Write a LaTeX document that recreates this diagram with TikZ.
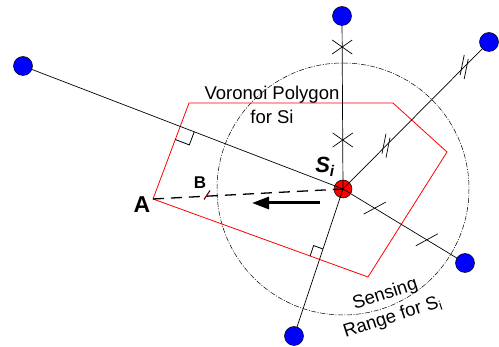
\documentclass[tikz,border=0pt]{standalone}
\usepackage{fontspec}
\setmainfont{Liberation Sans}
\usetikzlibrary{calc,arrows.meta}
\tikzset{
  bluenode/.style={circle,draw=black,fill=blue,line width=0.5pt,minimum size=19pt,inner sep=0pt},
  sinode/.style={circle,draw=black,fill=red,line width=0.5pt,minimum size=18pt,inner sep=0pt},
  link/.style={draw=black,line width=0.7pt},
  vor/.style={draw=red,line width=0.8pt},
  sense/.style={draw=black,line width=0.5pt,dash pattern=on 5pt off 1.5pt on 1pt off 1.5pt},
  tick/.style={draw=black,line width=0.7pt},
  ramark/.style={draw=black,line width=0.8pt},
  lbl/.style={font=\fontsize{18.5}{24}\selectfont,align=center,inner sep=0pt}
}
\begin{document}
\begin{tikzpicture}[x=1pt,y=-1pt]
\useasboundingbox (0,0) rectangle (499,347);
% coordinates
\coordinate (si) at (343,189);
\coordinate (c1) at (342,16);
\coordinate (c2) at (489,42);
\coordinate (c3) at (23,66);
\coordinate (c4) at (465,263);
\coordinate (c5) at (294,336);
\coordinate (v1) at (189,103);
\coordinate (v2) at (393,103);
\coordinate (v3) at (447,152);
\coordinate (v4) at (368,277);
\coordinate (A) at (153,199);
% sensing range
\draw[sense] (si) circle (126);
% voronoi polygon
\draw[vor] (v1) -- (v2) -- (v3) -- (v4) -- (A) -- cycle;
% Si node
\node[sinode] (s) at (si) {};
% links
\draw[link] (si) -- (c1);
\draw[link] (si) -- (c2);
\draw[link] (si) -- (c3);
\draw[link] (si) -- (c4);
\draw[link] (si) -- (c5);
% dashed line A to Si
\draw[black,line width=1.3pt,dash pattern=on 11pt off 7pt] (A) -- (si);
% B tick
\draw[draw={rgb,255:red,128;green,0;blue,0},line width=1.2pt] (204,199.5) -- (210,190.5);
% right angle markers
\coordinate (p1) at (intersection of c3--si and v1--A);
\coordinate (q1) at ($(p1)!15pt!(si)$);
\coordinate (q2) at ($(p1)!14pt!(A)$);
\draw[ramark] (q1) -- ($(q1)+(q2)-(p1)$) -- (q2);
\coordinate (p2) at (intersection of c5--si and v4--A);
\coordinate (r1) at ($(p2)!11pt!(si)$);
\coordinate (r2) at ($(p2)!10pt!(A)$);
\draw[ramark] (r1) -- ($(r1)+(r2)-(p2)$) -- (r2);
% crosses on top link
\foreach \d in {49,142}{
  \draw[tick] ($(si)!\d pt!(c1)$) ++(-10,-7) -- ++(20,14);
  \draw[tick] ($(si)!\d pt!(c1)$) ++(-10,7) -- ++(20,-14);
}
% double ticks on upper-right link
\foreach \d in {61,172}{
  \draw[tick] ($(si)!\d pt!(c2)$) ++(-2,-2) ++(-2,10) -- ++(4,-20);
  \draw[tick] ($(si)!\d pt!(c2)$) ++(2,2) ++(-2,10) -- ++(4,-20);
}
% single ticks on lower-right link
\foreach \d in {37,98}{
  \draw[tick] ($(si)!\d pt!(c4)$) ++(-11,6) -- ++(22,-12);
}
% blue nodes
\node[bluenode] (n1) at (c1) {};
\node[bluenode] (n2) at (c2) {};
\node[bluenode] (n3) at (c3) {};
\node[bluenode] (n4) at (c4) {};
\node[bluenode] (n5) at (c5) {};
% arrow
\coordinate (ar1) at (320,203);
\coordinate (ar2) at (252,203);
\draw[line width=3pt,-{Triangle[length=17pt,width=12pt]}] (ar1) -- (ar2);
% labels
\node[lbl] (tv) at (272,104.5) {Voronoi Polygon\\for Si};
\node[lbl,rotate=18] (ts) at (389,306) {Sensing\\Range for S\textsubscript{i}};
\node[inner sep=0pt,font=\fontsize{22}{24}\selectfont\bfseries\itshape] (tsi) at (325,167) {S\textsubscript{i}};
\node[inner sep=0pt,font=\fontsize{23}{24}\selectfont\bfseries] (tA) at (142,205) {A};
\node[inner sep=0pt,font=\fontsize{17}{20}\selectfont\bfseries] (tB) at (200,183) {B};
\end{tikzpicture}
\end{document}
